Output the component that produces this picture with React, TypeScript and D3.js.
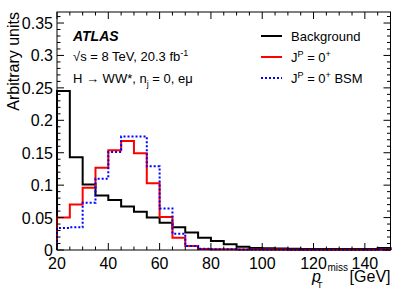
import React from 'react';
import * as d3 from 'd3';

// lower edges of the 5 GeV bins
const binLow = [20, 25, 30, 35, 40, 45, 50, 55, 60, 65, 70, 75, 80, 85, 90, 95, 100, 105, 110, 115, 120, 125, 130, 135, 140, 145];
const binWidth = 5;

const background = [0.245, 0.143, 0.101, 0.084, 0.077, 0.067, 0.059, 0.050, 0.042, 0.035, 0.027, 0.019, 0.014, 0.009, 0.005, 0.003, 0.0026, 0.0025, 0.002, 0.0015, 0.0015, 0.0015, 0.0015, 0.0015, 0.0015, 0.003];
const signalSM = [0.050, 0.070, 0.096, 0.127, 0.154, 0.168, 0.149, 0.103, 0.051, 0.019, 0.006, 0.0015, 0.001, 0.001, 0.0008, 0.0008, 0.0006, 0.0006, 0.0005, 0.0005, 0.0005, 0.0005, 0.0005, 0.0005, 0.0005, 0.0008];
const signalBSM = [0.034, 0.035, 0.073, 0.110, 0.151, 0.175, 0.175, 0.129, 0.064, 0.025, 0.006, 0.002, 0.001, 0.001, 0.0008, 0.0008, 0.0006, 0.0006, 0.0005, 0.0005, 0.0005, 0.0005, 0.0005, 0.0005, 0.0005, 0.0008];

const xTicks = [20, 40, 60, 80, 100, 120, 140];
const yTicks = [0, 0.05, 0.1, 0.15, 0.2, 0.25, 0.3, 0.35];

const W = 407, H = 292;
const frame = { left: 57, right: 390.5, top: 12, bottom: 250 };
const font = '"Liberation Sans", Arial, Helvetica, sans-serif';

function stepPath(values: number[], x: d3.ScaleLinear<number, number>, y: d3.ScaleLinear<number, number>) {
  const p = d3.path();
  p.moveTo(x(binLow[0]), y(0));
  values.forEach((v, i) => {
    p.lineTo(x(binLow[i]), y(v));
    p.lineTo(x(binLow[i] + binWidth), y(v));
  });
  p.lineTo(x(binLow[binLow.length - 1] + binWidth), y(0));
  return p.toString();
}

export default function App() {
  const x = d3.scaleLinear().domain([20, 150]).range([frame.left, frame.right]);
  const y = d3.scaleLinear().domain([0, 0.367]).range([frame.bottom, frame.top]);

  const xMinor = d3.range(20, 150.01, 5);
  const yMinor = d3.range(0, 0.3651, 0.01);
  const isMajorX = (v: number) => Math.abs(v % 20) < 1e-6;
  const isMajorY = (v: number) => Math.abs(Math.round(v * 100) % 5) < 1e-6;

  const series = [
    { values: background, color: '#000000', dash: undefined },
    { values: signalSM, color: '#ff0000', dash: undefined },
    { values: signalBSM, color: '#0000ff', dash: '2,2' },
  ];

  return (
    <svg width={W} height={H} style={{ position: 'absolute', left: 0, top: 0, background: '#fff' }} fontFamily={font}>
      {/* histograms */}
      <g fill="none" strokeWidth={2}>
        {series.map((s, i) => (
          <path key={i} d={stepPath(s.values, x, y)} stroke={s.color} strokeDasharray={s.dash} />
        ))}
      </g>

      {/* ticks on all four sides */}
      <g stroke="#000" strokeWidth={1}>
        {xMinor.map((v, i) => {
          const len = isMajorX(v) ? 7 : 3.5;
          return (
            <g key={'x' + i}>
              <line x1={x(v)} x2={x(v)} y1={frame.bottom} y2={frame.bottom - len} />
              <line x1={x(v)} x2={x(v)} y1={frame.top} y2={frame.top + len} />
            </g>
          );
        })}
        {yMinor.map((v, i) => {
          const len = isMajorY(v) ? 7 : 3.5;
          return (
            <g key={'y' + i}>
              <line x1={frame.left} x2={frame.left + len} y1={y(v)} y2={y(v)} />
              <line x1={frame.right} x2={frame.right - len} y1={y(v)} y2={y(v)} />
            </g>
          );
        })}
        <rect x={frame.left} y={frame.top} width={frame.right - frame.left} height={frame.bottom - frame.top} fill="none" />
      </g>

      {/* tick labels */}
      <g fontSize={16} fill="#000">
        {xTicks.map(v => (
          <text key={v} x={x(v)} y={269} textAnchor="middle">{v}</text>
        ))}
        {yTicks.map(v => (
          <text key={v} x={53} y={y(v) + 6} textAnchor="end">{v === 0 ? '0' : String(v)}</text>
        ))}
      </g>

      {/* axis titles */}
      <text transform={`translate(19,${frame.top}) rotate(-90)`} textAnchor="end" fontSize={16}>Arbitrary units</text>
      <text x={312} y={282} fontSize={16}>
        <tspan fontStyle="italic">p</tspan>
        <tspan fontSize={9} dx={-4} dy={6}>T</tspan>
        <tspan fontSize={10} dx={5} dy={-17}>miss</tspan>
      </text>
      <text x={frame.right} y={282} textAnchor="end" fontSize={16}>[GeV]</text>

      {/* labels */}
      <text x={73} y={41} fontSize={14} fontWeight="bold" fontStyle="italic">ATLAS</text>
      <text x={73} y={61} fontSize={13}>
        √s = 8 TeV, 20.3 fb<tspan fontSize={9} dy={-5}>-1</tspan>
      </text>
      <text x={73} y={83} fontSize={13}>
        H → WW*, n<tspan fontSize={9} dy={4}>j</tspan><tspan dy={-4}> = 0, eμ</tspan>
      </text>

      {/* legend */}
      <g fontSize={13}>
        {series.map((s, i) => {
          const ly = 36 + i * 21;
          return (
            <g key={i}>
              <line x1={261} x2={282} y1={ly} y2={ly} stroke={s.color} strokeWidth={2} strokeDasharray={s.dash} />
              {i === 0 && <text x={291} y={ly + 5}>Background</text>}
              {i === 1 && (
                <text x={291} y={ly + 5}>
                  J<tspan fontSize={9} dy={-5}>P</tspan><tspan dy={5}> = 0</tspan><tspan fontSize={9} dy={-5}>+</tspan>
                </text>
              )}
              {i === 2 && (
                <text x={291} y={ly + 5}>
                  J<tspan fontSize={9} dy={-5}>P</tspan><tspan dy={5}> = 0</tspan><tspan fontSize={9} dy={-5}>+</tspan><tspan dy={5}> BSM</tspan>
                </text>
              )}
            </g>
          );
        })}
      </g>
    </svg>
  );
}
